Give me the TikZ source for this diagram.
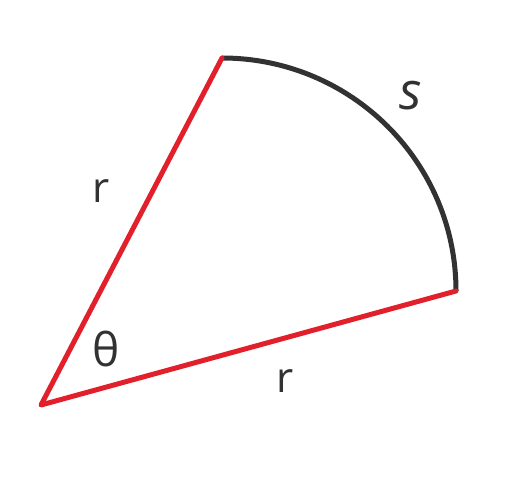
\documentclass[tikz,border=0pt]{standalone}
\usepackage{fontspec}
\setmainfont{Open Sans}
\definecolor{sred}{HTML}{E2202B}
\definecolor{sdark}{HTML}{333132}
\begin{document}
\begin{tikzpicture}[x=1pt,y=-1pt,
  radius/.style={draw=sred,line width=5pt,line cap=round,line join=round},
  arcline/.style={draw=sdark,line width=5pt},
  lbl/.style={font=\fontsize{42}{48}\selectfont,text=sdark,anchor=base,inner sep=0pt}]
\useasboundingbox (0,0) rectangle (513,478);
\coordinate (O) at (41,405);
\coordinate (A) at (222,58);
\coordinate (B) at (456,291);
\path[arcline] (A) arc[start angle=90,end angle=0,x radius=234,y radius=-233];
\path[radius] (A) -- (O) -- (B);
\node[lbl] (r1) at (101,202) {r};
\node[lbl,font=\fontsize{52}{58}\selectfont\itshape] (s) at (411,110) {s};
\node[lbl,font=\fontsize{46}{52}\selectfont] (th) at (106,366) {θ};
\node[lbl] (r2) at (285,392) {r};
\end{tikzpicture}
\end{document}
